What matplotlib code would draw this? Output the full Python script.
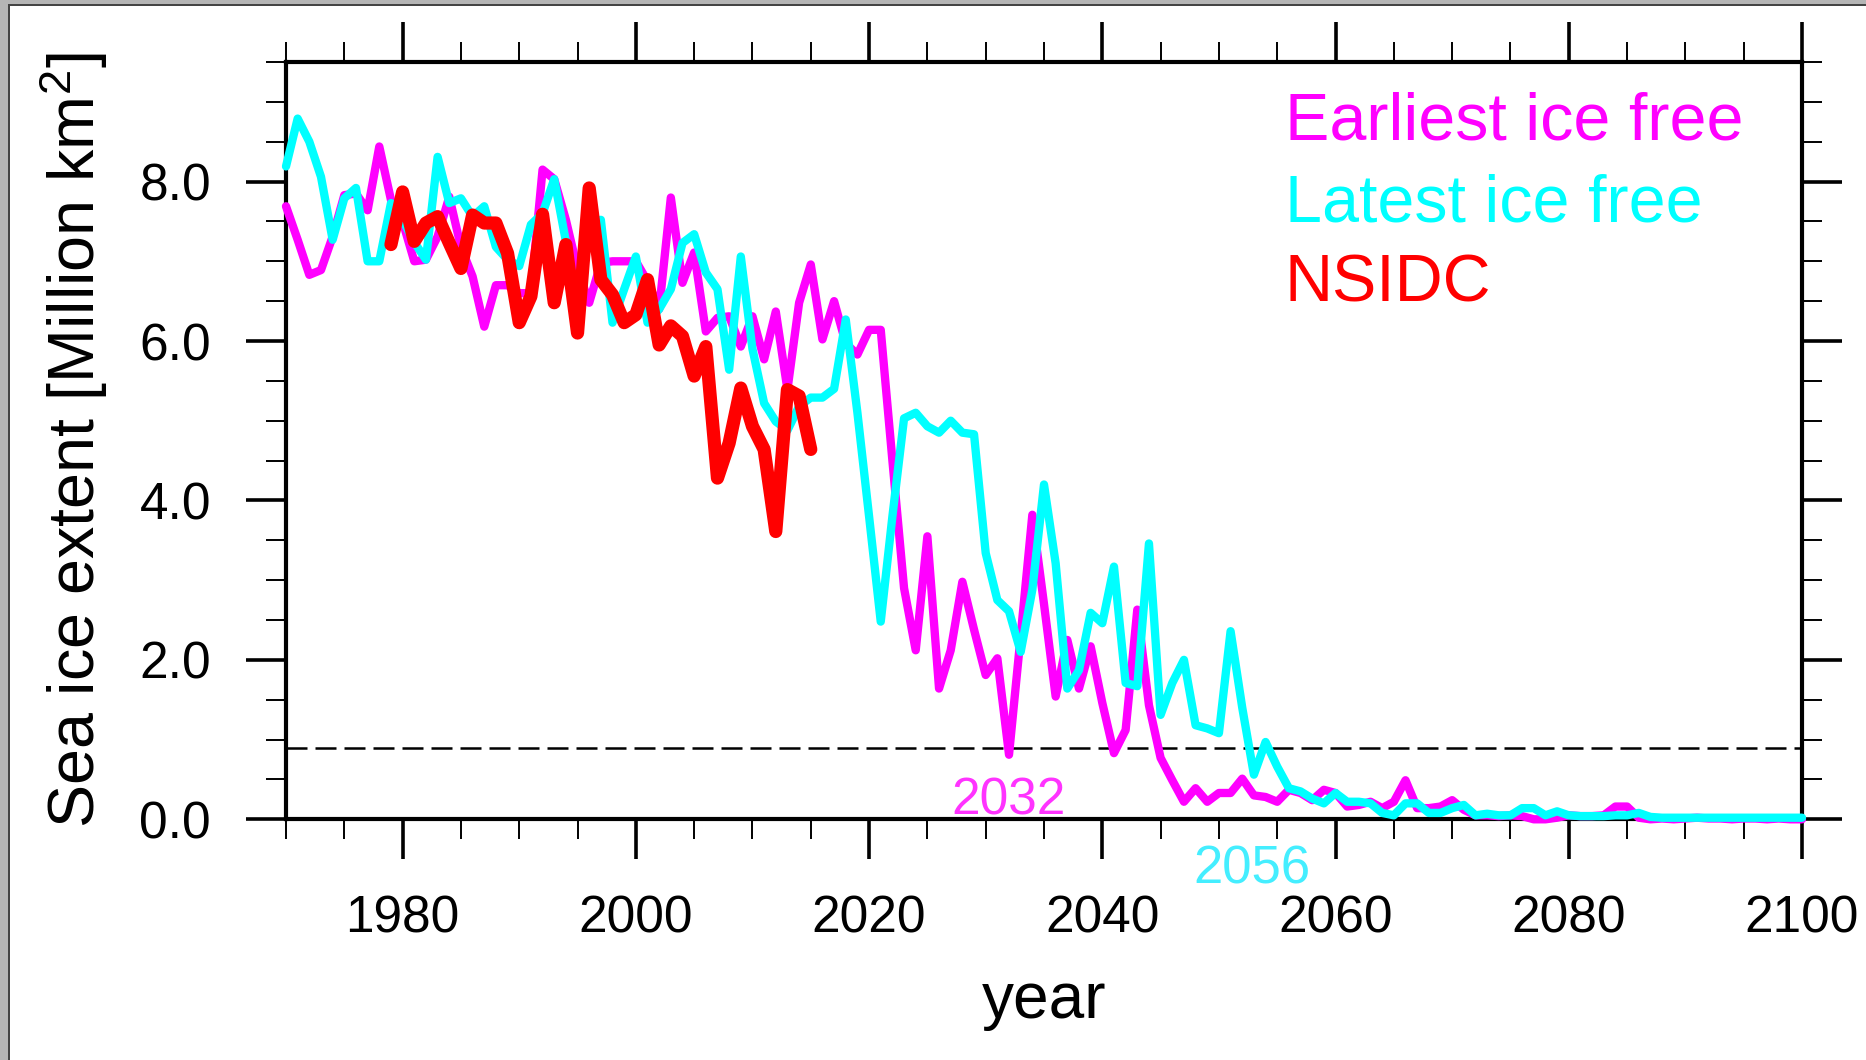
import matplotlib
matplotlib.use("Agg")
import matplotlib.pyplot as plt
import numpy as np
from matplotlib.patches import Rectangle
from matplotlib.ticker import MultipleLocator, FormatStrFormatter

plt.rcParams["font.family"] = ["Liberation Sans", "DejaVu Sans"]
plt.rcParams["mathtext.fontset"] = "custom"
plt.rcParams["mathtext.rm"] = "Liberation Sans"
plt.rcParams["mathtext.it"] = "Liberation Sans"

# model years
years = np.arange(1970, 2101)

# earliest ice-free member (magenta)
earliest = [
    7.69, 7.27, 6.83, 6.89, 7.31, 7.83, 7.85, 7.64, 8.44, 7.77,
    7.50, 7.00, 7.02, 7.31, 7.81, 7.18, 6.81, 6.18, 6.70, 6.70,
    6.60, 6.60, 8.15, 8.03, 7.52, 6.90, 6.48, 6.98, 7.00, 7.00,
    7.00, 6.75, 6.40, 7.80, 6.73, 7.11, 6.12, 6.29, 6.31, 5.93,
    6.31, 5.77, 6.37, 5.39, 6.48, 6.96, 6.02, 6.50, 5.97, 5.83,
    6.14, 6.14, 4.50, 2.90, 2.12, 3.55, 1.64, 2.12, 2.98, 2.38,
    1.81, 2.02, 0.81, 2.30, 3.82, 2.70, 1.54, 2.25, 1.64, 2.17,
    1.46, 0.83, 1.12, 2.63, 1.43, 0.77, 0.49, 0.22, 0.39, 0.22,
    0.33, 0.33, 0.51, 0.30, 0.28, 0.22, 0.37, 0.33, 0.24, 0.37,
    0.33, 0.16, 0.18, 0.22, 0.14, 0.22, 0.49, 0.14, 0.14, 0.16,
    0.24, 0.12, 0.05, 0.05, 0.04, 0.05, 0.04, 0.00, 0.00, 0.02,
    0.05, 0.04, 0.04, 0.05, 0.16, 0.16, 0.02, 0.00, 0.01, 0.00,
    0.01, 0.02, 0.01, 0.01, 0.00, 0.01, 0.01, 0.00, 0.01, 0.00,
    0.00,
]

# latest ice-free member (cyan)
latest = [
    8.19, 8.79, 8.50, 8.06, 7.27, 7.79, 7.92, 7.00, 7.00, 7.73,
    7.52, 7.24, 7.02, 8.31, 7.73, 7.79, 7.56, 7.69, 7.18, 7.02,
    6.94, 7.46, 7.60, 8.03, 7.25, 6.40, 7.50, 7.52, 6.23, 6.65,
    7.06, 6.23, 6.40, 6.65, 7.23, 7.34, 6.86, 6.65, 5.64, 7.06,
    5.90, 5.22, 4.99, 4.88, 5.18, 5.29, 5.29, 5.40, 6.27, 5.10,
    3.80, 2.48, 3.80, 5.03, 5.10, 4.93, 4.85, 5.00, 4.85, 4.83,
    3.34, 2.75, 2.61, 2.10, 2.88, 4.20, 3.21, 1.64, 1.87, 2.59,
    2.46, 3.17, 1.71, 1.67, 3.46, 1.31, 1.71, 2.00, 1.18, 1.14,
    1.08, 2.36, 1.40, 0.56, 0.97, 0.66, 0.39, 0.35, 0.26, 0.20,
    0.33, 0.22, 0.22, 0.20, 0.08, 0.05, 0.20, 0.20, 0.08, 0.08,
    0.14, 0.18, 0.05, 0.07, 0.05, 0.05, 0.14, 0.14, 0.05, 0.10,
    0.05, 0.04, 0.04, 0.04, 0.05, 0.05, 0.08, 0.03, 0.02, 0.02,
    0.02, 0.02, 0.02, 0.02, 0.02, 0.02, 0.02, 0.02, 0.02, 0.02,
    0.02,
]

# observations
obs_years = np.arange(1979, 2016)
nsidc = [
    7.21, 7.87, 7.25, 7.48, 7.56, 7.23, 6.91, 7.58, 7.48, 7.48,
    7.10, 6.23, 6.56, 7.59, 6.48, 7.21, 6.10, 7.92, 6.77, 6.58,
    6.23, 6.33, 6.77, 5.95, 6.19, 6.06, 5.56, 5.93, 4.28, 4.72,
    5.41, 4.93, 4.64, 3.61, 5.39, 5.31, 4.64,
]

threshold = 0.9
labels = ["Earliest ice free", "Latest ice free", "NSIDC"]
colors = ["#ff00ff", "#00ffff", "#ff0000"]

W, H = 1866, 1060
fig = plt.figure(figsize=(W / 100, H / 100), dpi=100)
fig.patch.set_facecolor("white")

# screenshot frame
fig.patches.append(Rectangle((0, 0), 8 / W, 1, transform=fig.transFigure,
                             facecolor="#b5b5b5", edgecolor="none", zorder=0))
fig.patches.append(Rectangle((0, 1 - 4 / H), 1, 4 / H, transform=fig.transFigure,
                             facecolor="#b5b5b5", edgecolor="none", zorder=0))
fig.patches.append(Rectangle((8 / W, 0), 2 / W, 1 - 4 / H, transform=fig.transFigure,
                             facecolor="#444444", edgecolor="none", zorder=0))
fig.patches.append(Rectangle((8 / W, 1 - 6 / H), 1, 2 / H, transform=fig.transFigure,
                             facecolor="#444444", edgecolor="none", zorder=0))

left, right, top, bottom = 286, 1802, 62, 819.3
ax = fig.add_axes([left / W, 1 - bottom / H, (right - left) / W, (bottom - top) / H])

ax.plot(years, earliest, color=colors[0], lw=6.0, solid_joinstyle="round",
        solid_capstyle="round", clip_on=False, zorder=3)
ax.plot(years, latest, color=colors[1], lw=6.0, solid_joinstyle="round",
        solid_capstyle="round", clip_on=False, zorder=4)
ax.plot(obs_years, nsidc, color=colors[2], lw=9.5, solid_joinstyle="round",
        solid_capstyle="round", clip_on=False, zorder=5)
ax.axhline(threshold, color="black", lw=1.8, linestyle=(0, (8.4, 3.2)), zorder=2)

ax.set_xlim(1970, 2100)
ax.set_ylim(0, 9.5)
ax.xaxis.set_major_locator(MultipleLocator(20))
ax.xaxis.set_minor_locator(MultipleLocator(5))
ax.yaxis.set_major_locator(MultipleLocator(2))
ax.yaxis.set_minor_locator(MultipleLocator(0.5))
ax.yaxis.set_major_formatter(FormatStrFormatter("%.1f"))
ax.set_xticks(np.arange(1980, 2101, 20))

for s in ax.spines.values():
    s.set_linewidth(3)
ax.tick_params(which="major", direction="out", length=29, width=2.6,
               top=True, right=True, labelsize=37)
ax.tick_params(which="minor", direction="out", length=14.5, width=1.4,
               top=True, right=True)
ax.tick_params(axis="x", which="major", pad=25)
ax.tick_params(axis="y", which="major", pad=25)

ax.set_xlabel("year", fontsize=46, va="center")
ax.xaxis.set_label_coords(0.5, (bottom - 1001) / (bottom - top))
ax.set_ylabel("Sea ice extent [Million km$^{2}$]", fontsize=46.5, va="center")
ax.yaxis.set_label_coords((74 - left) / (right - left), 0.5)

# legend as coloured text
for i, (lab, c) in enumerate(zip(labels, colors)):
    ax.text((1285 - left) / (right - left), (bottom - (123 + 81 * i)) / (bottom - top),
            lab, color=c, fontsize=47.8, transform=ax.transAxes,
            ha="left", va="center")

ax.text(2032, 0.23, "2032", color="#ff33ff", fontsize=37, ha="center", va="center")
ax.text(2052.8, -0.63, "2056", color="#44eeff", fontsize=38, ha="center",
        va="center", clip_on=False)

fig.savefig("out.png", dpi=100)
